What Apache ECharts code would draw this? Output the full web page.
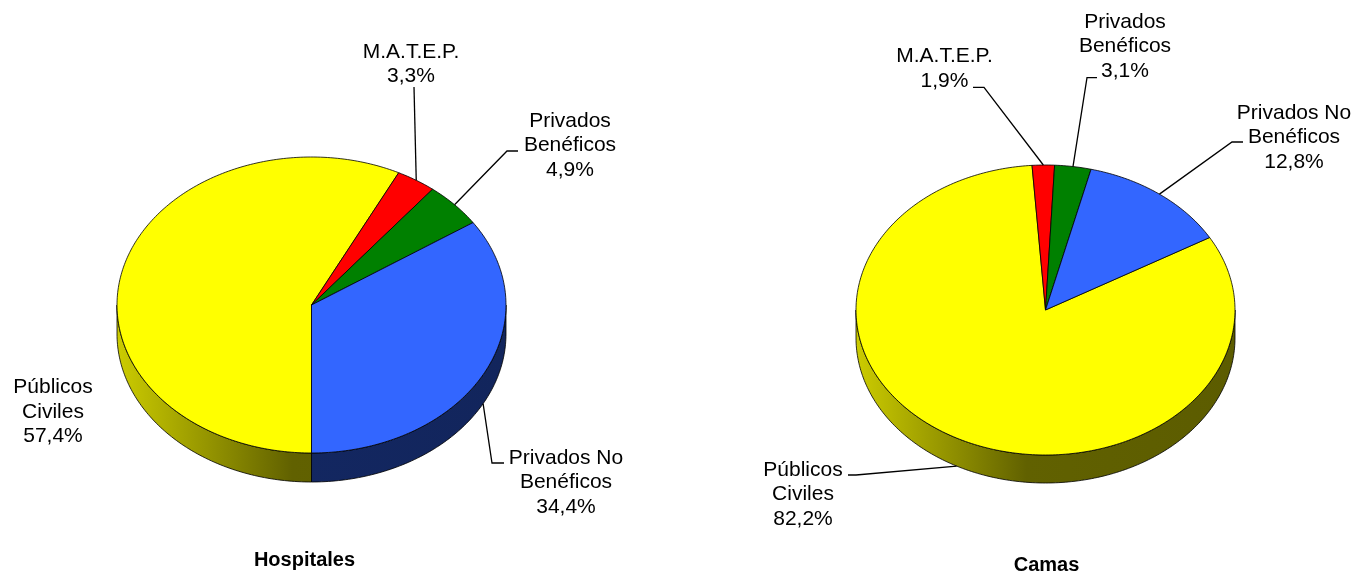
<!DOCTYPE html>
<html>
<head>
<meta charset="utf-8">
<title>Hospitales y Camas</title>
<script src="https://cdn.jsdelivr.net/npm/echarts@6/dist/echarts.min.js"></script>
<style>
  html, body { margin: 0; padding: 0; background: #fff; }
  #chart { width: 1357px; height: 575px; }
</style>
</head>
<body>
<div id="chart"></div>
<script>
// datos
const categorias = ['Públicos\nCiviles', 'M.A.T.E.P.', 'Privados\nBenéficos', 'Privados No\nBenéficos'];
const hospitales = [57.4, 3.3, 4.9, 34.4];
const camas = [82.2, 1.9, 3.1, 12.8];
const titulos = ['Hospitales', 'Camas'];
const colores = ['#ffff00', '#ff0000', '#008000', '#3366ff'];

// layout de cada tarta (centro, radios, grosor, angulo del primer sector)
const tartas = [
  {
    cx: 311.5, cy: 305, rx: 194.5, ry: 148, depth: 29, start: 180,
    titulo: [304.5, 560],
    etiquetas: [
      { pos: [53, 412], linea: null },
      { pos: [411, 64], linea: [[414, 87]] },
      { pos: [570, 145.3], linea: [[518, 151], [507, 151]] },
      { pos: [566, 482.6], linea: [[504, 463], [492, 463]] }
    ]
  },
  {
    cx: 1045.5, cy: 310, rx: 189.5, ry: 145, depth: 28, start: 60,
    titulo: [1046.5, 565],
    etiquetas: [
      { pos: [803, 494.6], linea: [[848, 475], [856, 475]] },
      { pos: [944.5, 68.5], linea: [[973, 87.3], [984, 87.3]] },
      { pos: [1125, 46.3], linea: [[1097, 77.7], [1087, 77.7]] },
      { pos: [1294, 137.6], linea: [[1243, 142], [1232, 142]] }
    ]
  }
];

const fuente = '"Liberation Sans", Arial, sans-serif';

function sombra(hex, f) {
  const n = parseInt(hex.slice(1), 16);
  const r = Math.round(((n >> 16) & 255) * f);
  const g = Math.round(((n >> 8) & 255) * f);
  const b = Math.round((n & 255) * f);
  return 'rgb(' + r + ',' + g + ',' + b + ')';
}

function punto(t, a, dy) {
  const r = a * Math.PI / 180;
  return [t.cx + t.rx * Math.sin(r), t.cy - t.ry * Math.cos(r) + (dy || 0)];
}

function arco(t, a0, a1, dy) {
  const pts = [];
  const n = Math.max(2, Math.ceil(Math.abs(a1 - a0)));
  for (let i = 0; i <= n; i++) pts.push(punto(t, a0 + (a1 - a0) * i / n, dy));
  return pts;
}

function porcentaje(v) {
  return v.toFixed(1).replace('.', ',') + '%';
}

// angulos de cada sector a partir de los valores
function sectores(valores, start) {
  const total = valores.reduce((s, v) => s + v, 0);
  let a = start;
  return valores.map(v => {
    const a0 = a;
    a += v / total * 360;
    return [a0, a];
  });
}

function hacerRender(k, valores) {
  const t = tartas[k];
  const angs = sectores(valores, t.start);
  return function (params, api) {
    const i = params.dataIndex;
    const valor = api.value(0);
    const [a0, a1] = angs[i];
    const color = colores[i];
    const hijos = [];

    // pared lateral visible (mitad delantera, 90..270 grados)
    const ventanas = [[90, 270], [450, 630]];
    ventanas.forEach(w => {
      const s = Math.max(a0, w[0]);
      const e = Math.min(a1, w[1]);
      if (e - s > 0.01) {
        const pts = arco(t, s, e, 0).concat(arco(t, e, s, t.depth));
        hijos.push({
          type: 'polygon',
          shape: { points: pts },
          style: {
            fill: {
              type: 'linear', global: true,
              x: t.cx - t.rx, y: 0, x2: t.cx + t.rx, y2: 0,
              colorStops: [
                { offset: 0, color: sombra(color, 0.8) },
                { offset: 0.45, color: sombra(color, 0.38) },
                { offset: 1, color: sombra(color, 0.36) }
              ]
            },
            stroke: '#000', lineWidth: 0.8
          }
        });
      }
    });

    // cara superior
    hijos.push({
      type: 'polygon',
      shape: { points: [[t.cx, t.cy]].concat(arco(t, a0, a1, 0)) },
      style: { fill: color, stroke: '#000', lineWidth: 0.8 }
    });

    // linea guia
    const et = t.etiquetas[i];
    if (et.linea) {
      let m = ((a0 + a1) / 2) % 360;
      const frente = m > 90 && m < 270;
      const fin = punto(t, m, frente ? t.depth : 0);
      hijos.push({
        type: 'polyline',
        shape: { points: et.linea.concat([fin]) },
        style: { stroke: '#000', lineWidth: 1.3, fill: null }
      });
    }

    // etiqueta
    hijos.push({
      type: 'text',
      style: {
        text: categorias[i] + '\n' + porcentaje(valor),
        x: et.pos[0], y: et.pos[1],
        fill: '#000',
        fontSize: 21, fontFamily: fuente,
        align: 'center', verticalAlign: 'middle',
        lineHeight: 24.5
      }
    });

    // titulo
    if (i === 0) {
      hijos.push({
        type: 'text',
        style: {
          text: titulos[k],
          x: t.titulo[0], y: t.titulo[1],
          fill: '#000',
          fontSize: 20, fontWeight: 'bold', fontFamily: fuente,
          align: 'center', verticalAlign: 'middle'
        }
      });
    }

    return { type: 'group', children: hijos };
  };
}

const chart = echarts.init(document.getElementById('chart'));
chart.setOption({
  animation: false,
  backgroundColor: '#fff',
  series: [hospitales, camas].map((valores, k) => ({
    type: 'custom',
    coordinateSystem: 'none',
    silent: true,
    renderItem: hacerRender(k, valores),
    data: valores.map((v, i) => ({ value: v, name: categorias[i] }))
  }))
});
</script>
</body>
</html>
